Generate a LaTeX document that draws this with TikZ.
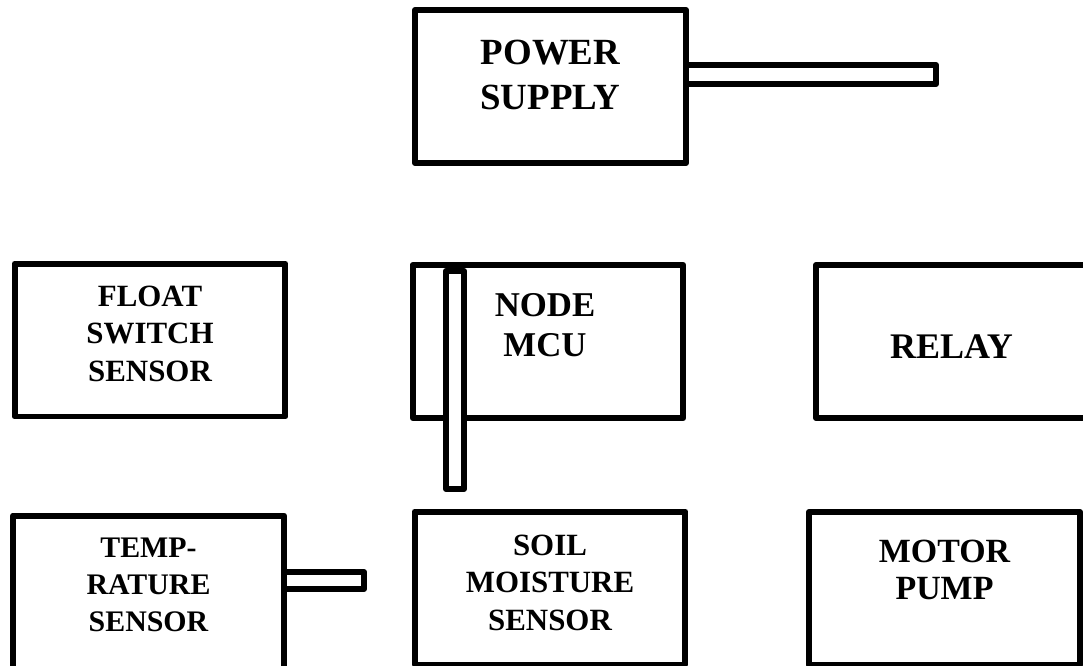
\documentclass[tikz,border=0pt]{standalone}
\usepackage{fontspec}
\setmainfont{Liberation Serif}
\usetikzlibrary{positioning}
\tikzset{
    layout/.style={x=0.02cm, y=-0.02cm, line width=3.4pt, line join=round},
    block/.style={draw, minimum width=5.42cm, minimum height=3.06cm, inner sep=0pt},
    stub/.style={draw, fill=white, inner sep=0pt},
    tag/.style={inner sep=0pt, align=center},
    % two text sizes: unit names and sensor names
    bigtag/.style={tag, font=\bfseries\fontsize{20.5pt}{24pt}\selectfont},
    smalltag/.style={tag, font=\bfseries\fontsize{17.6pt}{21.3pt}\selectfont},
}

\begin{document}
\begin{tikzpicture}[layout]
    \clip (0,0) rectangle (1083,666);

    \node[block] (ps)    at (550.5,86.5)  {};
    \node[block] (float) at (150,340)     {};
    \node[block] (mcu)   at (548,341.5)   {};
    \node[block] (relay) at (951.5,341.5) {};
    \node[block] (temp)  at (148.5,592)   {};
    \node[block] (soil)  at (550,588)     {};
    \node[block] (pump)  at (944.5,588.5) {};

    \node[stub, minimum width=5cm, minimum height=0.38cm]    (psbar)   at (811,74.5)  {};
    \node[stub, minimum width=0.36cm, minimum height=4.36cm] (mcubar)  at (455,380)   {};
    \node[stub, minimum width=1.6cm, minimum height=0.34cm]  (tempbar) at (324,580.5) {};

    \node[bigtag, font=\bfseries\fontsize{21pt}{25.5pt}\selectfont,
          below=0.6cm of ps.north]                 (pstext)    {POWER\\SUPPLY};
    \node[smalltag, below=0.45cm of float.north]   (floattext) {FLOAT\\SWITCH\\SENSOR};
    \node[bigtag, font=\bfseries\fontsize{19.8pt}{23.2pt}\selectfont,
          below=0.56cm of mcu.north, xshift=-0.06cm] (mcutext)  {NODE\\MCU};
    \node[bigtag, below=1.4cm of relay.north]      (relaytext) {RELAY};
    \node[smalltag, font=\bfseries\fontsize{17pt}{21pt}\selectfont,
          below=0.45cm of temp.north]              (temptext)  {TEMP-\\RATURE\\SENSOR};
    \node[smalltag, below=0.47cm of soil.north]    (soiltext)  {SOIL\\MOISTURE\\SENSOR};
    \node[bigtag, font=\bfseries\fontsize{19.3pt}{21pt}\selectfont,
          below=0.56cm of pump.north]              (pumptext)  {MOTOR\\PUMP};
\end{tikzpicture}
\end{document}
